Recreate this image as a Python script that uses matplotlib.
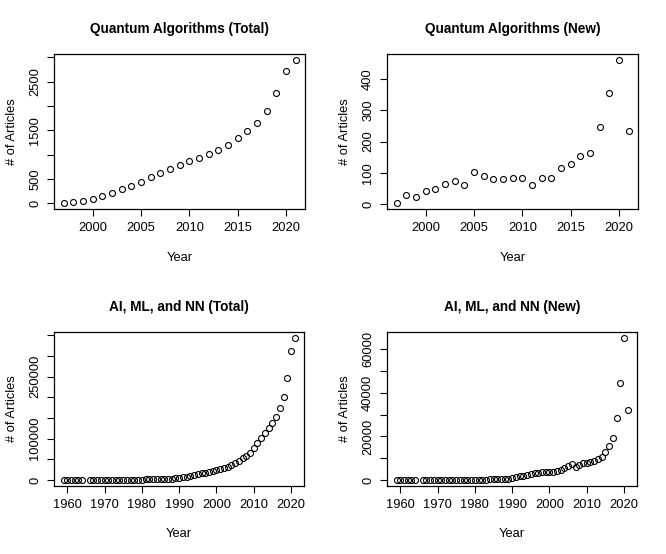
import numpy as np
import matplotlib
matplotlib.use("Agg")
import matplotlib.pyplot as plt

plt.rcParams['font.family'] = ['Liberation Sans', 'DejaVu Sans']

# quantum algorithms, 1997-2021
qa_years = list(range(1997, 2022))
qa_total = [4, 27, 55, 90, 145, 213, 288, 350, 446, 543, 625, 700, 783, 865,
            927, 1010, 1099, 1209, 1339, 1497, 1655, 1902, 2260, 2713, 2947]
qa_new = [3, 28, 23, 41, 47, 66, 75, 61, 103, 89, 82, 79, 84, 83,
          60, 85, 83, 114, 129, 153, 164, 245, 355, 460, 234]

# AI / ML / NN, 1959-2021 (no 1965)
ai_years = list(range(1959, 1965)) + list(range(1966, 2022))
ai_total = [10, 20, 30, 45, 60, 80,
            100, 130, 160, 200, 240, 290, 350, 420, 500, 590,
            690, 800, 920, 1060, 1220, 1400, 1600, 1830, 2090, 2390,
            2740, 3140, 3620, 4170, 4900, 6200, 7900, 9700, 11600, 13700,
            15800, 17900, 19900, 21900, 24000, 26200, 28700, 31700, 35500, 40500,
            46500, 52500, 59000, 66500, 76500, 88500, 101500, 113200, 125200, 138000,
            153400, 173400, 201600, 246400, 312400, 344400]
ai_new = [10, 8, 12, 15, 18, 20,
          25, 30, 35, 40, 45, 50, 60, 70, 80, 90,
          100, 110, 120, 140, 160, 180, 200, 230, 260, 300,
          350, 400, 480, 550, 750, 1300, 1700, 2000, 2300, 2700,
          3000, 3300, 3500, 3700, 3800, 3800, 4000, 4800, 5500, 6400,
          7300, 6000, 6800, 7600, 7700, 8200, 8700, 9600, 10600, 12800,
          15400, 19500, 28600, 44400, 65300, 32300]

W, H = 666, 554
fig = plt.figure(figsize=(W / 100, H / 100), dpi=100)


def panel(rect, x, y, title, xticks, yticks, ylabels):
    l, t, r, b = rect
    ax = fig.add_axes([l / W, 1 - b / H, (r - l) / W, (b - t) / H])
    ax.plot(x, y, 'o', mfc='none', mec='black', ms=4.3, mew=0.8)
    ax.margins(x=0.04, y=0.04)
    ax.set_xticks(xticks)
    ax.set_yticks(yticks)
    ax.set_yticklabels([str(v) if v in ylabels else '' for v in yticks],
                       rotation=90, va='center')
    ax.tick_params(direction='out', length=5, width=0.8, labelsize=9.3,
                   pad=4.5, colors='black')
    for s in ax.spines.values():
        s.set_linewidth(0.9)
    ax.set_title(title, fontsize=9.8, fontweight='bold', pad=15)
    ax.set_xlabel('Year', fontsize=9.3, labelpad=12.5)
    ax.set_ylabel('# of Articles', fontsize=9.3, labelpad=8)
    return ax


panel((54.3, 54.3, 305, 209), qa_years, qa_total, 'Quantum Algorithms (Total)',
      range(2000, 2021, 5), range(0, 3001, 500), [0, 500, 1500, 2500])
panel((387.3, 54.3, 638, 209), qa_years, qa_new, 'Quantum Algorithms (New)',
      range(2000, 2021, 5), range(0, 401, 100), [0, 100, 200, 300, 400])
panel((54.3, 332, 304, 485.7), ai_years, ai_total, 'AI, ML, and NN (Total)',
      range(1960, 2021, 10), range(0, 350001, 50000), [0, 100000, 250000])
panel((387.3, 332, 637, 485.7), ai_years, ai_new, 'AI, ML, and NN (New)',
      range(1960, 2021, 10), range(0, 60001, 10000), [0, 20000, 40000, 60000])

fig.savefig('out.png', dpi=100)
